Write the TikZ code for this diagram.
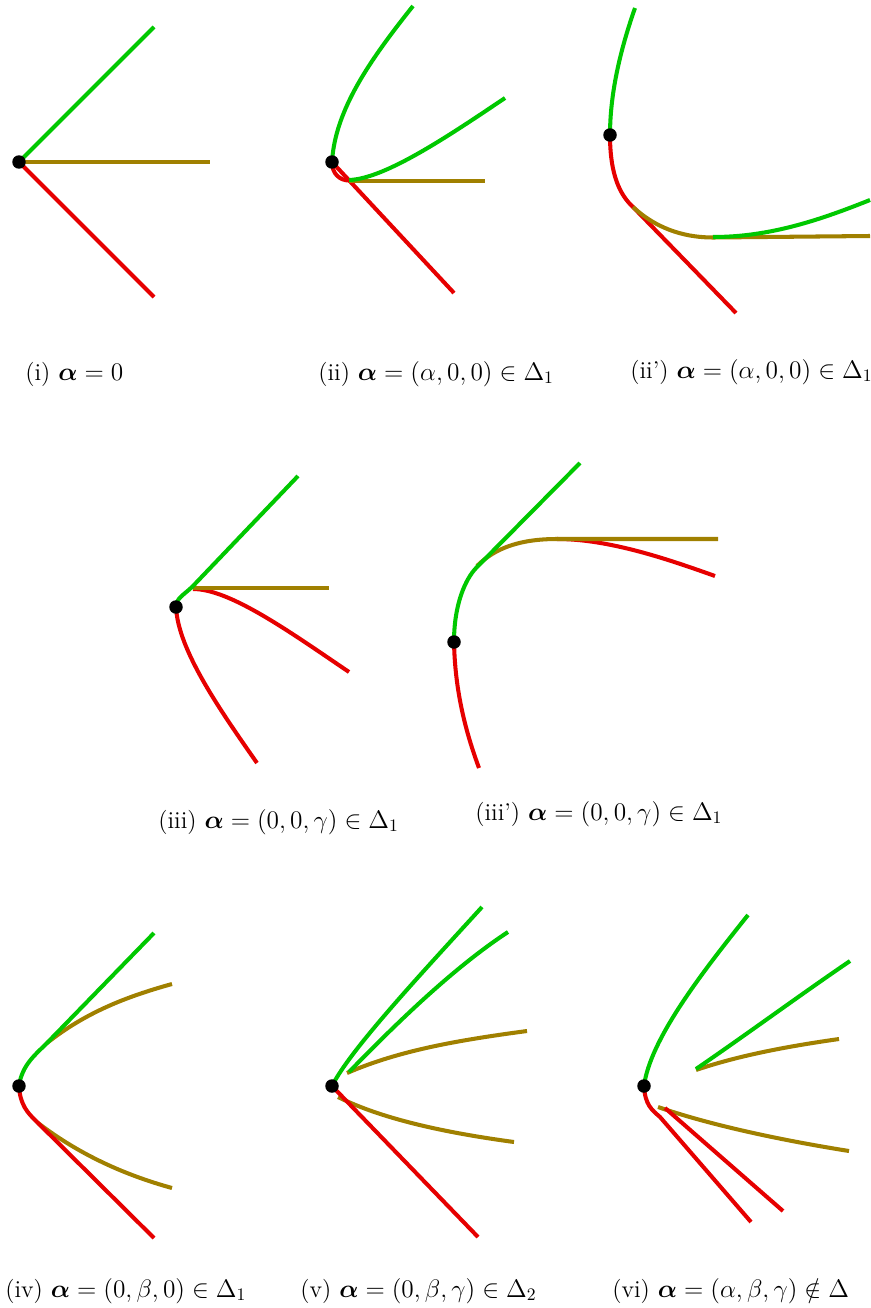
\documentclass[tikz,border=0pt]{standalone}
\usepackage{amsmath}
\definecolor{cgreen}{RGB}{0,200,0}
\definecolor{cred}{RGB}{230,0,0}
\definecolor{colive}{RGB}{160,128,0}
\tikzset{
  gr/.style={draw=cgreen,line width=2.3pt},
  rd/.style={draw=cred,line width=2.3pt},
  ol/.style={draw=colive,line width=2.3pt},
  dot/.style={circle,fill=black,inner sep=0pt,minimum size=0.27cm},
  lab/.style={anchor=base west,inner sep=0pt,font=\fontsize{13.8}{17}\selectfont}
}
\begin{document}
\begin{tikzpicture}[x=0.02cm,y=-0.02cm]
\useasboundingbox (0,0) rectangle (870,1308);
% ---------- (i)
\coordinate (p1) at (19,162);
\draw[gr] (p1) -- (154,27);
\draw[rd] (p1) -- (154,297);
\draw[ol] (p1) -- (210,162);
\node[dot] (d1) at (p1) {};
\node[lab] (l1) at (25,380) {(i) $\boldsymbol{\alpha}=0$};
% ---------- (ii)
\coordinate (p2) at (332,162);
\draw[rd] (p2) -- (454,293);
\draw[rd] (p2) .. controls (332,174) and (340,180.5) .. (349,180.5);
\draw[ol] (349,181) -- (485,181);
\draw[gr] (p2) .. controls (335,110) and (370,60) .. (413,6);
\draw[gr] (349,180) .. controls (385,179) and (450,135) .. (505,98);
\node[dot] (d2) at (p2) {};
\node[lab] (l2) at (318,380) {(ii) $\boldsymbol{\alpha}=(\alpha,0,0)\in\Delta_1$};
% ---------- (ii')
\coordinate (p3) at (610,135);
\draw[rd] (p3) .. controls (610,175) and (620,195) .. (633,207) -- (736,313);
\draw[ol] (633,207) .. controls (660,232) and (690,237.5) .. (713,237.5) -- (870,236);
\draw[gr] (713,237) .. controls (770,237) and (820,220) .. (870,200);
\draw[gr] (p3) .. controls (610,90) and (622,45) .. (635,8);
\node[dot] (d3) at (p3) {};
\node[lab] (l3) at (630,378) {(ii’) $\boldsymbol{\alpha}=(\alpha,0,0)\in\Delta_1$};
% ---------- (iii)
\coordinate (p4) at (176,607);
\draw[rd] (p4) .. controls (178,650) and (220,710) .. (257,763);
\draw[rd] (193,589) .. controls (230,589) and (290,632) .. (349,672);
\draw[ol] (193,588) -- (329,588);
\draw[gr] (p4) .. controls (176,598) and (184,595) .. (193,586) -- (298,476);
\node[dot] (d4) at (p4) {};
\node[lab] (l4) at (158,828) {(iii) $\boldsymbol{\alpha}=(0,0,\gamma)\in\Delta_1$};
% ---------- (iii')
\coordinate (p5) at (454,642);
\draw[rd] (p5) .. controls (455,690) and (465,730) .. (479,768);
\draw[rd] (557,539) .. controls (610,539) and (670,560) .. (715,576);
\draw[ol] (477,566) .. controls (495,548) and (520,539) .. (557,539) -- (718,539);
\draw[gr] (p5) .. controls (454,605) and (465,579) .. (477,567) -- (580,463);
\node[dot] (d5) at (p5) {};
\node[lab] (l5) at (475,820) {(iii’) $\boldsymbol{\alpha}=(0,0,\gamma)\in\Delta_1$};
% ---------- (iv)
\coordinate (p6) at (19,1086);
\draw[ol] (47,1043) .. controls (85,1013) and (125,997) .. (172,984);
\draw[ol] (38,1123) .. controls (80,1155) and (125,1175) .. (172,1188);
\draw[gr] (p6) .. controls (22,1065) and (35,1055) .. (47,1043) -- (154,933);
\draw[rd] (p6) .. controls (20,1105) and (28,1113) .. (35,1120) -- (154,1238);
\node[dot] (d6) at (p6) {};
\node[lab] (l6) at (5,1297) {(iv) $\boldsymbol{\alpha}=(0,\beta,0)\in\Delta_1$};
% ---------- (v)
\coordinate (p7) at (332,1086);
\draw[ol] (347,1073) .. controls (400,1050) and (460,1040) .. (527,1031);
\draw[ol] (338,1097) .. controls (380,1118) and (440,1132) .. (514,1142);
\draw[gr] (p7) .. controls (350,1050) and (420,975) .. (482,907);
\draw[gr] (349,1072) .. controls (390,1030) and (450,970) .. (508,932);
\draw[rd] (p7) -- (478,1237);
\node[dot] (d7) at (p7) {};
\node[lab] (l7) at (300,1297) {(v) $\boldsymbol{\alpha}=(0,\beta,\gamma)\in\Delta_2$};
% ---------- (vi)
\coordinate (p8) at (644,1086);
\draw[ol] (696,1070) .. controls (740,1055) and (790,1046) .. (839,1039);
\draw[ol] (658,1107) .. controls (710,1125) and (780,1140) .. (849,1151);
\draw[gr] (p8) .. controls (650,1040) and (700,975) .. (748,915);
\draw[gr] (696,1069) .. controls (750,1032) and (800,995) .. (850,961);
\draw[rd] (p8) .. controls (645,1105) and (652,1110) .. (660,1117) -- (751,1222);
\draw[rd] (665,1108) -- (783,1211);
\node[dot] (d8) at (p8) {};
\node[lab] (l8) at (612,1297) {(vi) $\boldsymbol{\alpha}=(\alpha,\beta,\gamma)\notin\Delta$};
\end{tikzpicture}
\end{document}
